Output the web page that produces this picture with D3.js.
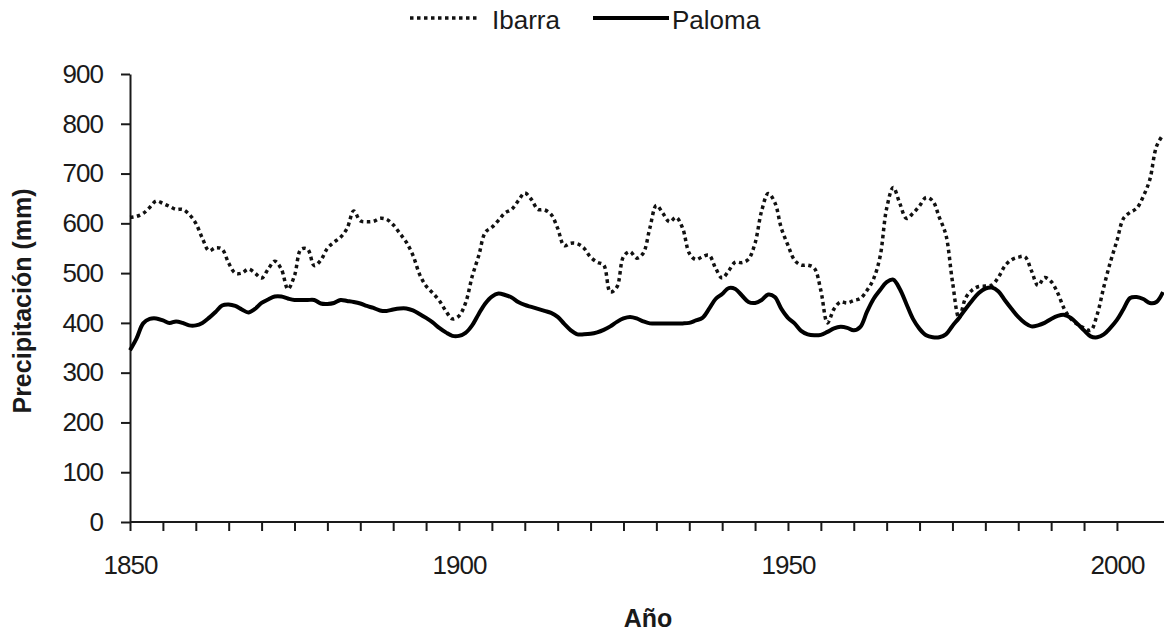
<!DOCTYPE html>
<html>
<head>
<meta charset="utf-8">
<script src="https://cdn.jsdelivr.net/npm/d3@7"></script>
<style>
  body { margin: 0; background: #fff; }
  svg { font-family: "Liberation Sans", Arial, sans-serif; }
  .axis path, .axis line { stroke: #1a1a1a; stroke-width: 2; }
  .axis text { font-size: 26px; fill: #1a1a1a; letter-spacing: -1px; }
</style>
</head>
<body>
<svg id="chart" width="1164" height="632"></svg>
<script>
// years on the x axis (annual values)
const years = d3.range(1850, 2008);

// Ibarra precipitation (mm)
const ibarra = [
  612, 614, 620, 632, 645, 640, 634, 628, 628, 618,
  600, 570, 545, 551, 548, 520, 500, 500, 508, 500,
  490, 508, 524, 508, 468, 495, 548, 548, 515, 526,
  550, 562, 572, 590, 625, 605, 603, 604, 610, 608,
  597, 580, 562, 536, 498, 474, 460, 445, 424, 408,
  414, 440, 493, 535, 582, 592, 606, 621, 628, 645,
  661, 648, 628, 627, 618, 590, 555, 560, 559, 550,
  532, 522, 516, 462, 472, 533, 543, 530, 540, 590,
  636, 620, 603, 612, 590, 540, 527, 533, 536, 510,
  490, 505, 522, 521, 528, 560, 625, 660, 642, 590,
  556, 526, 516, 516, 510, 465, 400, 428, 442, 440,
  445, 449, 465, 488, 533, 630, 672, 640, 610, 620,
  635, 652, 645, 612, 577, 483, 410, 450, 466, 473,
  474, 476, 492, 515, 527, 532, 533, 505, 475, 491,
  483, 460, 428, 408, 397, 390, 385, 417, 472, 522,
  565, 610, 622, 630, 654, 688, 754, 778
];

// Paloma precipitation (mm)
const paloma = [
  345, 369, 399, 408, 409, 405, 400, 403, 400, 395,
  395, 400, 410, 422, 435, 437, 434, 427, 421, 428,
  440, 447, 453, 453, 449, 446, 446, 446, 446, 439,
  438, 440, 446, 444, 442, 439, 434, 430, 425, 424,
  427, 429, 429, 425, 418, 410, 401, 390, 381, 374,
  374, 380, 395, 418, 439, 453, 459, 456, 451, 442,
  436, 432, 428, 424, 420, 412, 398, 385, 377, 377,
  378, 381, 386, 393, 402, 409, 412, 409, 403, 399,
  399, 399, 399, 399, 399, 400, 405, 410, 428, 448,
  458, 470, 468, 455, 442, 440, 446, 457, 452, 428,
  410, 399, 384, 377, 375, 376, 382, 389, 392, 390,
  385, 392, 422, 448, 466, 482, 487, 468, 438, 408,
  388, 375, 371, 371, 377, 394, 410, 428, 445, 460,
  469, 471, 463, 445, 428, 412, 400, 393, 395, 400,
  408, 414, 416, 410, 398, 385, 373, 371, 377, 390,
  406, 428, 450, 452, 448, 440, 442, 462
];

const yTicks = [0, 100, 200, 300, 400, 500, 600, 700, 800, 900];
const xTicks = d3.range(1850, 2001, 5);
const xLabels = [1850, 1900, 1950, 2000];

const svg = d3.select('#chart');

const x = d3.scaleLinear().domain([1850, 2007]).range([130, 1163]);
const y = d3.scaleLinear().domain([0, 900]).range([522, 74]);

// y axis
svg.append('g')
    .attr('class', 'axis')
    .attr('transform', 'translate(' + x(1850) + ',0)')
    .call(d3.axisLeft(y).tickValues(yTicks).tickSize(9).tickSizeOuter(0).tickPadding(18));

// x axis, line runs to the right edge
const xAxis = svg.append('g')
    .attr('class', 'axis')
    .attr('transform', 'translate(0,' + y(0) + ')')
    .call(d3.axisBottom(x).tickValues(xTicks).tickSize(9).tickSizeOuter(0).tickPadding(25)
        .tickFormat((d) => xLabels.includes(d) ? d : ''));
xAxis.select('.domain').attr('d', 'M' + x(1850) + ',0H1164');

// axis titles
svg.append('text')
    .attr('text-anchor', 'middle')
    .attr('transform', 'translate(31,301)rotate(-90)')
    .style('font-size', '25px')
    .style('font-weight', 'bold')
    .attr('fill', '#1a1a1a')
    .text('Precipitación (mm)');

svg.append('text')
    .attr('text-anchor', 'middle')
    .attr('x', 648)
    .attr('y', 627)
    .style('font-size', '25px')
    .style('font-weight', 'bold')
    .attr('fill', '#1a1a1a')
    .text('Año');

// series
const line = (vals) => d3.line()
    .x((d, i) => x(years[i]))
    .y((d) => y(d))
    .curve(d3.curveCatmullRom.alpha(0.5))(vals);

svg.append('path')
    .attr('d', line(ibarra))
    .attr('fill', 'none')
    .attr('stroke', '#111')
    .attr('stroke-width', 3.5)
    .attr('stroke-dasharray', '3.5,3.5');

svg.append('path')
    .attr('d', line(paloma))
    .attr('fill', 'none')
    .attr('stroke', '#000')
    .attr('stroke-width', 4)
    .attr('stroke-linejoin', 'round');

// legend
const legend = svg.append('g').style('font-size', '26px').attr('fill', '#1a1a1a');
legend.append('line')
    .attr('x1', 410).attr('x2', 479).attr('y1', 18).attr('y2', 18)
    .attr('stroke', '#111').attr('stroke-width', 3.5).attr('stroke-dasharray', '3.5,3.5');
legend.append('text').attr('x', 492).attr('y', 29).text('Ibarra');
legend.append('line')
    .attr('x1', 593).attr('x2', 669).attr('y1', 18).attr('y2', 18)
    .attr('stroke', '#000').attr('stroke-width', 4);
legend.append('text').attr('x', 672).attr('y', 29).text('Paloma');
</script>
</body>
</html>
